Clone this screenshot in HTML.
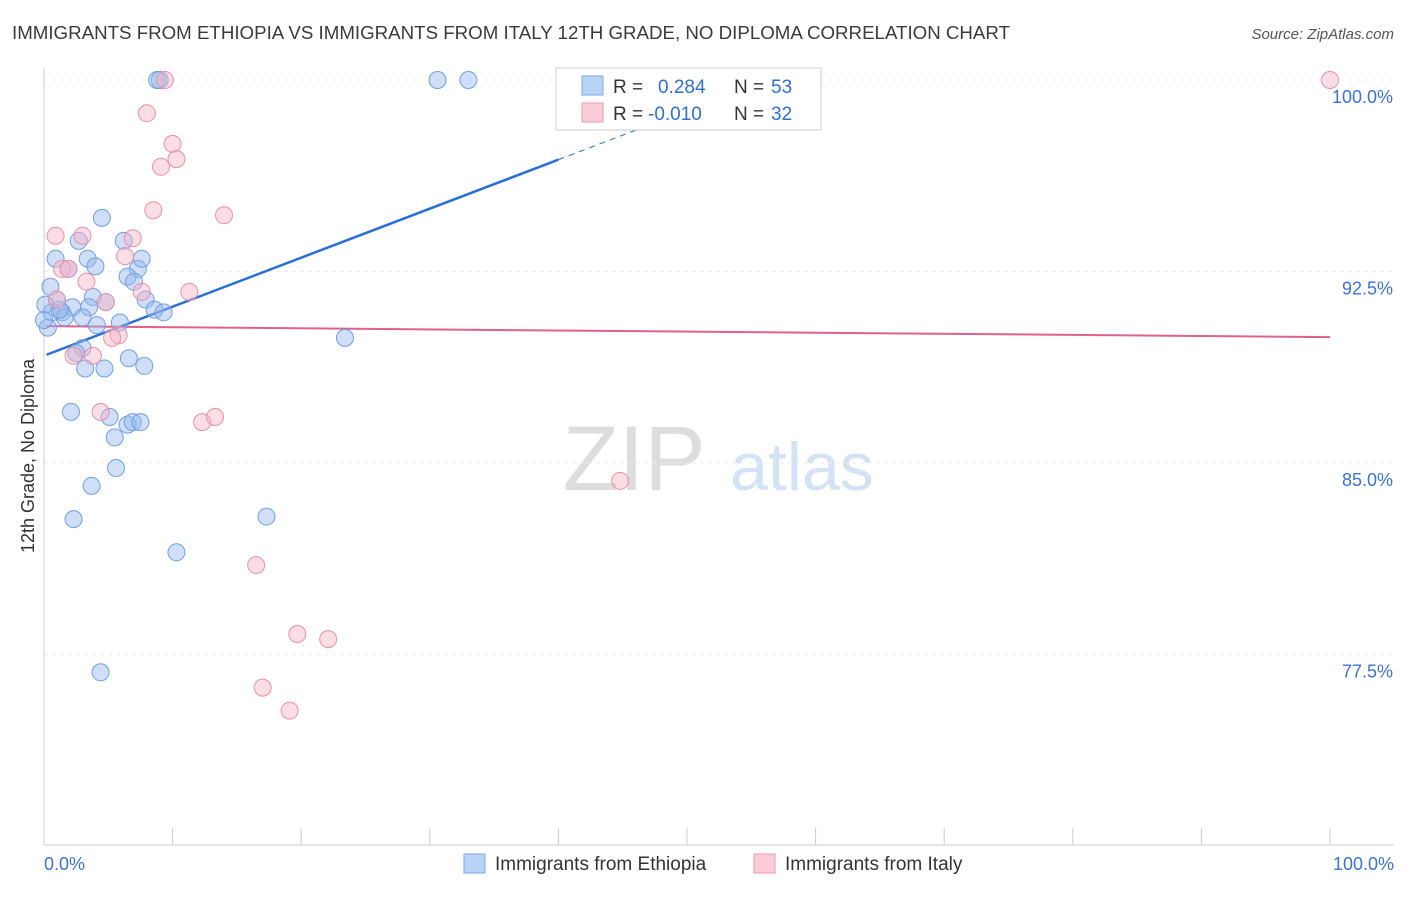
<!DOCTYPE html>
<html><head><meta charset="utf-8">
<style>
body{margin:0;background:#fff;font-family:"Liberation Sans",sans-serif;}
svg text{font-family:"Liberation Sans",sans-serif;}
</style></head>
<body>
<svg id="chart" width="1406" height="892" xmlns="http://www.w3.org/2000/svg">
<text x="12" y="39" font-size="18" fill="#3a3a3a" textLength="998" lengthAdjust="spacingAndGlyphs">IMMIGRANTS FROM ETHIOPIA VS IMMIGRANTS FROM ITALY 12TH GRADE, NO DIPLOMA CORRELATION CHART</text>
<text x="1394" y="39" font-size="15" fill="#555" text-anchor="end" font-style="italic">Source: ZipAtlas.com</text>
<text transform="translate(34,456) rotate(-90)" font-size="18" fill="#333" text-anchor="middle">12th Grade, No Diploma</text>
<g>
<text x="634" y="490" font-size="92" fill="#ddd" font-family="Liberation Serif" text-anchor="middle">ZIP</text>
<text x="802" y="490" font-size="68" fill="#d3e2f5" text-anchor="middle">atlas</text>
</g>
<g id="grid"></g><g id="axes"></g><g id="trend"></g><g id="pts"></g>
<g>
<rect x="556" y="68" width="265" height="62" fill="#fff" stroke="#ccc"/>
<rect x="582" y="76" width="21" height="19" fill="#b9d3f5" stroke="#7aa7e3"/>
<text x="613" y="93" font-size="19" fill="#333">R =</text><text x="658" y="93" font-size="19" fill="#2f6fd2">0.284</text>
<text x="734" y="93" font-size="19" fill="#333">N =</text><text x="771" y="93" font-size="19" fill="#2f6fd2">53</text>
<rect x="582" y="103" width="21" height="19" fill="#fbcdda" stroke="#ec9ab3"/>
<text x="613" y="120" font-size="19" fill="#333">R =</text><text x="648" y="120" font-size="19" fill="#2f6fd2">-0.010</text>
<text x="734" y="120" font-size="19" fill="#333">N =</text><text x="771" y="120" font-size="19" fill="#2f6fd2">32</text>
</g>
<g>
<rect x="464" y="854" width="21" height="19" fill="#b9d3f5" stroke="#7aa7e3"/>
<text x="495" y="870" font-size="19" fill="#333">Immigrants from Ethiopia</text>
<rect x="754" y="854" width="21" height="19" fill="#fbcdda" stroke="#ec9ab3"/>
<text x="785" y="870" font-size="19" fill="#333">Immigrants from Italy</text>
</g>
</svg>
<script>
const blueX=[9.0,8.8,30.6,33.0,4.5,6.2,2.7,0.9,3.4,1.9,4.0,7.3,7.6,6.5,7.0,0.5,1.0,3.8,4.8,7.9,2.2,3.5,0.6,1.4,1.6,3.0,4.1,5.9,8.6,9.3,0.3,23.4,3.0,2.5,6.6,7.8,3.2,4.7,2.1,5.1,6.5,6.9,7.5,5.5,5.6,3.7,2.3,17.3,10.3,4.4,0.0,1.2,0.1];
const blueY=[100,100,100,100,94.6,93.7,93.7,93.0,93.0,92.6,92.7,92.6,93.0,92.3,92.1,91.9,91.4,91.5,91.3,91.4,91.1,91.1,90.9,90.9,90.7,90.7,90.4,90.5,91.0,90.9,90.3,89.9,89.5,89.3,89.1,88.8,88.7,88.7,87.0,86.8,86.5,86.6,86.6,86.0,84.8,84.1,82.8,82.9,81.5,76.8,90.6,91.0,91.2];
const pinkX=[9.4,100,8.0,10.0,10.3,9.1,8.5,14.0,0.9,3.0,6.9,6.3,1.4,1.9,3.3,4.8,7.6,11.3,1.0,5.8,5.3,3.8,2.3,4.4,12.3,13.3,44.8,16.5,19.7,22.1,17.0,19.1];
const pinkY=[100,100,98.7,97.5,96.9,96.6,94.9,94.7,93.9,93.9,93.8,93.1,92.6,92.6,92.1,91.3,91.7,91.7,91.4,90.0,89.9,89.2,89.2,87.0,86.6,86.8,84.3,81.0,78.3,78.1,76.2,75.3];
const blueTrend=[89.2,0.192];
const pinkTrend=[90.36,-0.0043];
const yTicks=[100,92.5,85,77.5];
const yTickLabels=["100.0%","92.5%","85.0%","77.5%"];
const NS="http://www.w3.org/2000/svg";
const X=v=>44+v*12.86, Y=v=>80+(100-v)*25.53;
function mk(p,t,a){const e=document.createElementNS(NS,t);for(const k in a)e.setAttribute(k,a[k]);document.getElementById(p).appendChild(e);return e;}
yTicks.forEach((t,i)=>{
 const l=mk('grid','line',{x1:44,x2:1394,y1:Y(t),y2:Y(t),stroke:'#ececec','stroke-dasharray':'4,4'});
 
 
 const tx=mk('grid','text',{x:1393,y:Y(t)+23,'font-size':18,fill:'#3b73d0','text-anchor':'end'});
 tx.textContent=yTickLabels[i];
 
 
});
const ax=mk('axes','line',{x1:44,x2:44,y1:68,y2:845,stroke:'#ccc'});


const bx=mk('axes','line',{x1:44,x2:1394,y1:845,y2:845,stroke:'#ccc'});


for(let i=0;i<=10;i++){const t=mk('axes','line',{x1:X(i*10),x2:X(i*10),y1:828,y2:845,stroke:'#ccc'});
 
 }
const x0=mk('axes','text',{x:44,y:870,'font-size':18,fill:'#3b73d0'});x0.textContent='0.0%';


const x1=mk('axes','text',{x:1394,y:870,'font-size':18,fill:'#3b73d0','text-anchor':'end'});x1.textContent='100.0%';


const ty=(tr,x)=>tr[0]+tr[1]*x;
const bl=mk('trend','line',{x1:X(0.2),y1:Y(ty(blueTrend,0.2)),x2:X(40),y2:Y(ty(blueTrend,40)),stroke:'#2a6fd6','stroke-width':2.5});


const bd=mk('trend','line',{x1:X(40),y1:Y(ty(blueTrend,40)),x2:X(48),y2:Y(ty(blueTrend,48)),stroke:'#2a6fd6','stroke-width':1,'stroke-dasharray':'6,5'});


const pl=mk('trend','line',{x1:X(0.2),y1:Y(ty(pinkTrend,0.2)),x2:X(100),y2:Y(ty(pinkTrend,100)),stroke:'#e0608e','stroke-width':2});


blueX.forEach((v,i)=>{const c=mk('pts','circle',{cx:X(v),cy:Y(blueY[i]),r:8.5,fill:'rgba(150,185,238,0.45)',stroke:'#6fa0e0','stroke-width':1});
 
 });
pinkX.forEach((v,i)=>{const c=mk('pts','circle',{cx:X(v),cy:Y(pinkY[i]),r:8.5,fill:'rgba(246,180,200,0.45)',stroke:'#e890aa','stroke-width':1});
 
 });
</script>
</body></html>
